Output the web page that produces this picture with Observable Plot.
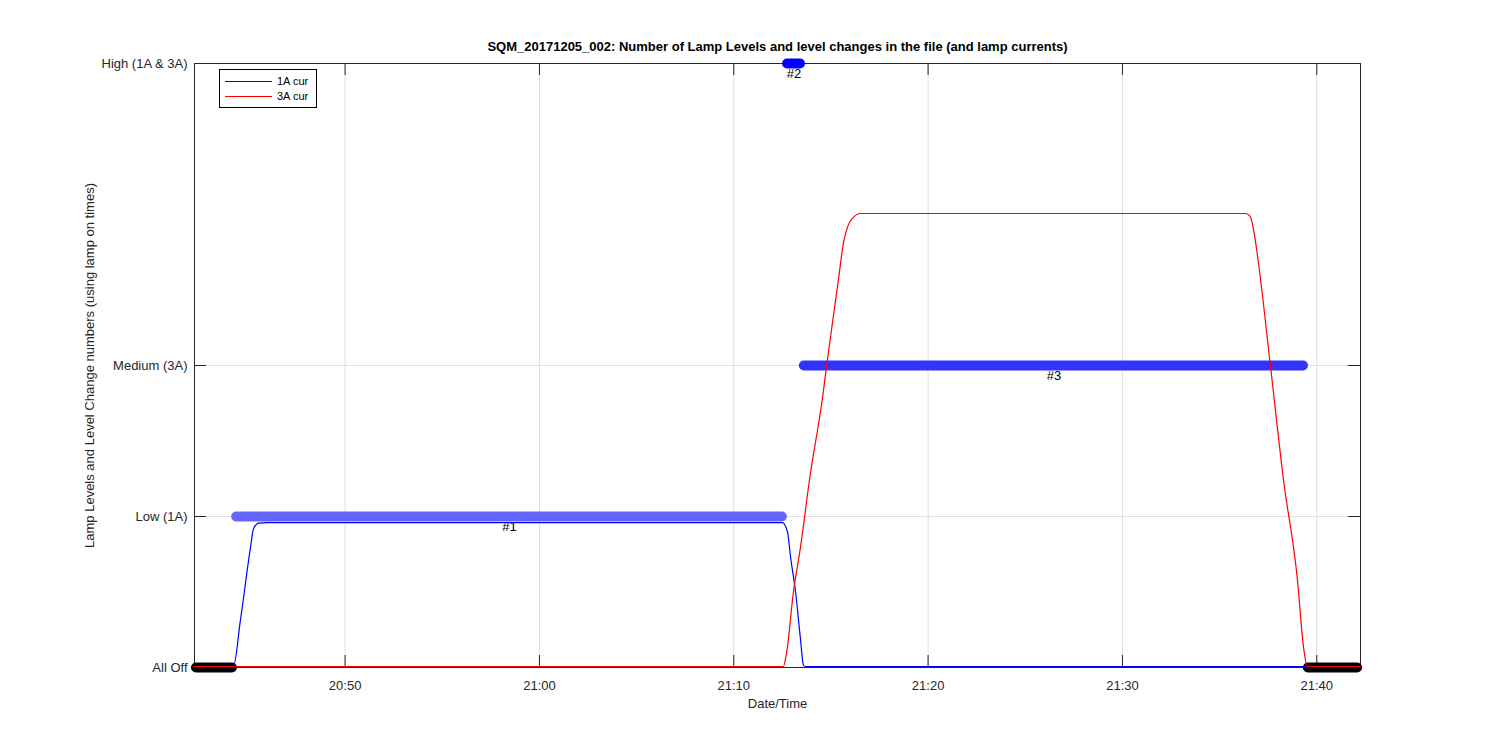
<!DOCTYPE html>
<html>
<head>
<meta charset="utf-8">
<script src="https://cdn.jsdelivr.net/npm/d3@7"></script>
<script src="https://cdn.jsdelivr.net/npm/@observablehq/plot@0.6"></script>
<style>
  html, body { margin: 0; padding: 0; background: #fff; }
  #chart svg { display: block; }
</style>
</head>
<body>
<div id="chart"></div>
<script>
// ---------- data ----------
const titleText = "SQM_20171205_002: Number of Lamp Levels and level changes in the file (and lamp currents)";
const xLabel = "Date/Time";
const yLabel = "Lamp Levels and Level Change numbers (using lamp on times)";

const xDomain = ["20:42:15", "21:42:15"];
const xTickTimes = ["20:50", "21:00", "21:10", "21:20", "21:30", "21:40"];

const levelValues = [0, 1, 2, 4];
const levelLabels = ["All Off", "Low (1A)", "Medium (3A)", "High (1A & 3A)"];

// lamp-level runs (markers)
const runStart = ["20:42:21", "20:44:25", "21:12:46", "21:13:38", "21:39:34"];
const runEnd   = ["20:44:12", "21:12:30", "21:13:26", "21:39:19", "21:42:06"];
const runLevel = [0, 1, 4, 2, 0];
const runColor = ["#000000", "#6666ff", "#0000ff", "#3333ff", "#000000"];
const runLabel = ["", "#1", "#2", "#3", ""];

// 1A lamp current (scaled to level axis)
const cur1Times = ["20:42:15", "20:44:15", "20:44:37", "20:45:08", "20:45:17", "20:45:33", "20:46:00",
                   "21:12:30", "21:12:46", "21:12:55", "21:13:11", "21:13:26", "21:13:35", "21:13:41", "21:42:15"];
const cur1Values = [0, 0, 0.31, 0.79, 0.91, 0.95, 0.953,
                    0.953, 0.89, 0.73, 0.49, 0.18, 0.01, 0, 0];

// 3A lamp current (scaled to level axis)
const cur3Times = ["20:42:15", "21:12:33", "21:12:43", "21:13:04", "21:13:26", "21:13:54", "21:14:34", "21:14:49",
                   "21:15:23", "21:15:39", "21:15:51", "21:16:07", "21:16:31", "21:36:20", "21:36:35", "21:36:45",
                   "21:36:57", "21:37:37", "21:38:17", "21:39:00", "21:39:19", "21:39:31", "21:42:15"];
const cur3Values = [0, 0, 0.09, 0.49, 0.79, 1.24, 1.78, 2.03,
                    2.56, 2.81, 2.91, 2.97, 3.0, 3.0, 2.98, 2.89,
                    2.72, 1.99, 1.24, 0.58, 0.13, 0, 0];

const legendNames = ["1A cur", "3A cur"];
const legendColors = ["#0000ff", "#ff0000"];

// ---------- build ----------
const pT = (s) => {
  const p = s.split(":").map(Number);
  return new Date(Date.UTC(2017, 11, 5, p[0], p[1], p[2] || 0));
};
const xd = xDomain.map(pT);
const xTicks = xTickTimes.map(pT);
const runs = runStart.map((s, i) => ({
  start: pT(s), end: pT(runEnd[i]), level: runLevel[i], color: runColor[i], label: runLabel[i],
  mid: new Date((pT(s).getTime() + pT(runEnd[i]).getTime()) / 2)
}));
const cur1 = cur1Times.map((t, i) => ({t: pT(t), v: cur1Values[i]}));
const cur3 = cur3Times.map((t, i) => ({t: pT(t), v: cur3Values[i]}));

const W = 1500, H = 750, mL = 194, mR = 140, mT = 63, mB = 83;
const plotH = H - mT - mB, plotW = W - mL - mR, tick = 12;
const axisColor = "#262626";
const gridColor = "#dfdfdf";
const font = "Arial, 'Liberation Sans', Helvetica, sans-serif";

const chart = Plot.plot({
  width: W, height: H,
  marginLeft: mL, marginRight: mR, marginTop: mT, marginBottom: mB,
  style: {fontFamily: font, fontSize: "13px", color: axisColor, background: "#fff", overflow: "visible"},
  x: {type: "utc", domain: xd, label: null},
  y: {domain: [0, 4], label: null},
  marks: [
    Plot.gridX(xTicks, {stroke: gridColor, strokeOpacity: 1}),
    Plot.gridY(levelValues, {stroke: gridColor, strokeOpacity: 1}),
    Plot.frame({stroke: axisColor, strokeWidth: 1}),
    // inward ticks on all four sides
    Plot.tickX(xTicks, {x: d => d, insetTop: plotH - tick, stroke: axisColor}),
    Plot.tickX(xTicks, {x: d => d, insetBottom: plotH - tick, stroke: axisColor}),
    Plot.tickY(levelValues, {y: d => d, insetRight: plotW - tick, stroke: axisColor}),
    Plot.tickY(levelValues, {y: d => d, insetLeft: plotW - tick, stroke: axisColor}),
    Plot.axisX(xTicks, {tickSize: 0, tickPadding: 13, tickFormat: d3.utcFormat("%H:%M"), label: null, fontSize: 13}),
    Plot.axisY(levelValues, {tickSize: 0, tickPadding: 7, tickFormat: (d) => levelLabels[levelValues.indexOf(d)], label: null, fontSize: 13}),
    // level runs
    Plot.ruleY(runs, {x1: "start", x2: "end", y: "level", stroke: "color", strokeWidth: 10, strokeLinecap: "round", clip: false}),
    Plot.text(runs.filter(r => r.label), {x: "mid", y: "level", text: "label", dy: 10, fill: "#000", fontSize: 13}),
    // currents
    Plot.line(cur1, {x: "t", y: "v", stroke: legendColors[0], strokeWidth: 1.2, curve: "monotone-x", dy: -1}),
    Plot.line(cur3, {x: "t", y: "v", stroke: legendColors[1], strokeWidth: 1.2, curve: "monotone-x", dy: -1}),
    // titles
    Plot.text([titleText], {frameAnchor: "top", dy: -17, lineAnchor: "middle", fontWeight: "bold", fontSize: 13, fill: "#000"}),
    Plot.text([xLabel], {frameAnchor: "bottom", dy: 36, lineAnchor: "middle", fontSize: 13, fill: axisColor}),
    Plot.text([yLabel], {frameAnchor: "left", dx: -105, rotate: -90, lineAnchor: "middle", textAnchor: "middle", fontSize: 13, fill: axisColor})
  ]
});

// legend box
const svg = d3.select(chart);
const lg = svg.append("g").attr("font-family", font).attr("font-size", 11).attr("text-anchor", "start");
lg.append("rect").attr("x", 219.5).attr("y", 69.5).attr("width", 97).attr("height", 38)
  .attr("fill", "#fff").attr("stroke", "#000").attr("stroke-width", 1);
legendNames.forEach((name, i) => {
  const y = 81.5 + i * 15;
  lg.append("line").attr("x1", 225).attr("x2", 272).attr("y1", y).attr("y2", y)
    .attr("stroke", legendColors[i]).attr("stroke-width", 1);
  lg.append("text").attr("x", 277).attr("y", y).attr("dy", "0.35em").attr("fill", "#000")
    .attr("text-anchor", "start").text(name);
});

document.getElementById("chart").appendChild(chart);
</script>
</body>
</html>
